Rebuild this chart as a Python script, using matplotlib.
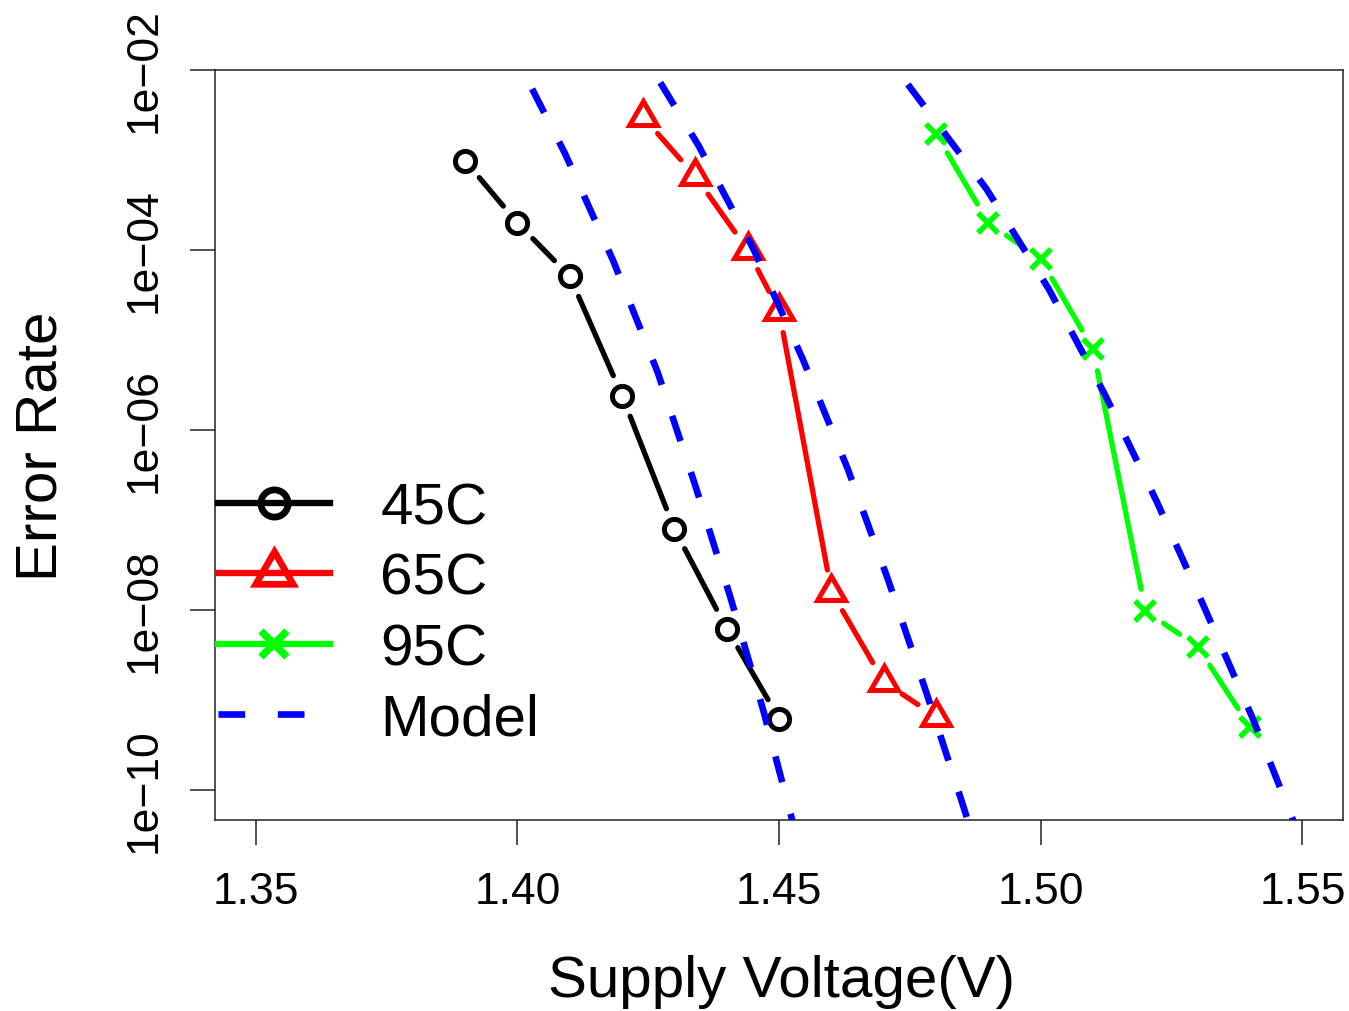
import numpy as np
import matplotlib
matplotlib.use("Agg")
import matplotlib.pyplot as plt
from matplotlib.lines import Line2D

plt.rcParams['font.family'] = ['Liberation Sans', 'DejaVu Sans']

# measured error rate vs supply voltage
volt_45 = [1.39, 1.40, 1.41, 1.42, 1.43, 1.44, 1.45]
err_45 = [9.8e-4, 2.0e-4, 5.1e-5, 2.4e-6, 7.9e-8, 6.2e-9, 6.2e-10]

volt_65 = [1.424, 1.434, 1.444, 1.45, 1.46, 1.47, 1.48]
err_65 = [3.0e-3, 6.6e-4, 1.0e-4, 2.1e-5, 1.6e-8, 1.6e-9, 6.5e-10]

volt_95 = [1.48, 1.49, 1.50, 1.51, 1.52, 1.53, 1.54]
err_95 = [1.95e-3, 2.0e-4, 7.9e-5, 7.9e-6, 9.8e-9, 3.9e-9, 5.0e-10]

# model curves (log10 of error rate)
model_v45 = [1.4028, 1.4091, 1.4183, 1.4268, 1.4340, 1.4407, 1.4470, 1.4523, 1.4560]
model_log45 = [-2.21, -2.93, -4.12, -5.36, -6.62, -7.86, -9.12, -10.29, -11.1]
model_v65 = [1.4273, 1.4346, 1.4451, 1.4545, 1.4631, 1.4708, 1.4781, 1.4852, 1.4890]
model_log65 = [-2.14, -2.84, -3.99, -5.21, -6.43, -7.66, -8.91, -10.18, -10.9]
model_v95 = [1.4746, 1.4896, 1.5015, 1.5122, 1.5222, 1.5314, 1.5404, 1.5481, 1.5530]
model_log95 = [-2.16, -3.32, -4.43, -5.60, -6.80, -7.99, -9.19, -10.32, -11.0]

x_ticks = [1.35, 1.40, 1.45, 1.50, 1.55]
x_ticklabels = ['1.35', '1.40', '1.45', '1.50', '1.55']
y_ticks = [1e-2, 1e-4, 1e-6, 1e-8, 1e-10]
y_ticklabels = ['1e\u221202', '1e\u221204', '1e\u221206', '1e\u221208', '1e\u221210']

labels = ['45C', '65C', '95C', 'Model']

W, H = 1349, 1012
fig = plt.figure(figsize=(W / 100, H / 100), dpi=100)
ax = fig.add_axes([215 / W, 1 - 821 / H, 1127.7 / W, 750 / H])
ax.set_yscale('log')
ax.set_xlim(1.3422, 1.5577)
ax.set_ylim(10 ** -10.3333, 1e-2)

LW = 3.8
MODEL_LW = 4.8
MODEL_DASH = (4.0, 4.9)
tri = (3, 0, 0)
LEG = 1.35  # legend symbols are drawn bigger


def gapped_line(ax, x, y, color, gap=22):
    # R type="b": segments stop short of the points
    pts = ax.transData.transform(np.column_stack([x, y]))
    inv = ax.transData.inverted()
    for p0, p1 in zip(pts[:-1], pts[1:]):
        d = p1 - p0
        L = np.hypot(d[0], d[1])
        if L <= 2 * gap:
            continue
        u = d / L
        a, b = inv.transform(np.array([p0 + u * gap, p1 - u * gap]))
        ax.plot([a[0], b[0]], [a[1], b[1]], color=color, lw=LW,
                solid_capstyle='round', zorder=2)


styles = [
    (volt_45, err_45, 'black', 'o', 14.5, 3.6),
    (volt_65, err_65, '#ff0000', tri, 23, 3.6),
    (volt_95, err_95, '#00ff00', 'x', 14, 4.0),
]
for x, y, c, m, ms, mew in styles:
    gapped_line(ax, x, y, c)
    ax.plot(x, y, ls='none', marker=m, ms=ms, mfc='none', mec=c, mew=mew, zorder=3)

for mv, ml in [(model_v45, model_log45), (model_v65, model_log65), (model_v95, model_log95)]:
    ax.plot(mv, 10 ** np.array(ml), color='#0000ff', lw=MODEL_LW, dashes=MODEL_DASH,
            dash_capstyle='butt', zorder=4)

ax.set_xticks(x_ticks)
ax.set_xticklabels(x_ticklabels)
ax.set_yticks(y_ticks)
ax.set_yticklabels(y_ticklabels, rotation=90, va='center')
ax.minorticks_off()
ax.tick_params(axis='both', direction='out', length=18, width=1.1, labelsize=32, color='#222222')
ax.tick_params(axis='x', pad=19)
ax.tick_params(axis='y', pad=18)
ax.tick_params(top=False, right=False)
for s in ax.spines.values():
    s.set_linewidth(1.1)
    s.set_color('#222222')

fig.text(782 / W, 1 - 997 / H, 'Supply Voltage(V)', fontsize=42, ha='center', va='baseline')
fig.text(42 / W, 1 - 446 / H, 'Error Rate', fontsize=42, ha='center', va='center', rotation=90)

handles = [
    Line2D([], [], color='black', lw=LW * 1.2, marker='o', ms=14.5 * LEG, mfc='none', mew=3.6 * LEG),
    Line2D([], [], color='#ff0000', lw=LW * 1.2, marker=tri, ms=23 * LEG, mfc='none', mew=3.6 * LEG),
    Line2D([], [], color='#00ff00', lw=LW * 1.2, marker='x', ms=14 * LEG, mfc='none', mew=4.0 * LEG),
    Line2D([], [], color='#0000ff', lw=MODEL_LW, dashes=MODEL_DASH, dash_capstyle='butt'),
]
ax.legend(handles, labels, loc='center left', bbox_to_anchor=(3 / 1127.7, (821 - 615) / 750),
          frameon=False, fontsize=42, handlelength=1.92, handletextpad=0.86,
          labelspacing=0.28, borderpad=0, borderaxespad=0, numpoints=1)

fig.savefig('out.png', dpi=100)
